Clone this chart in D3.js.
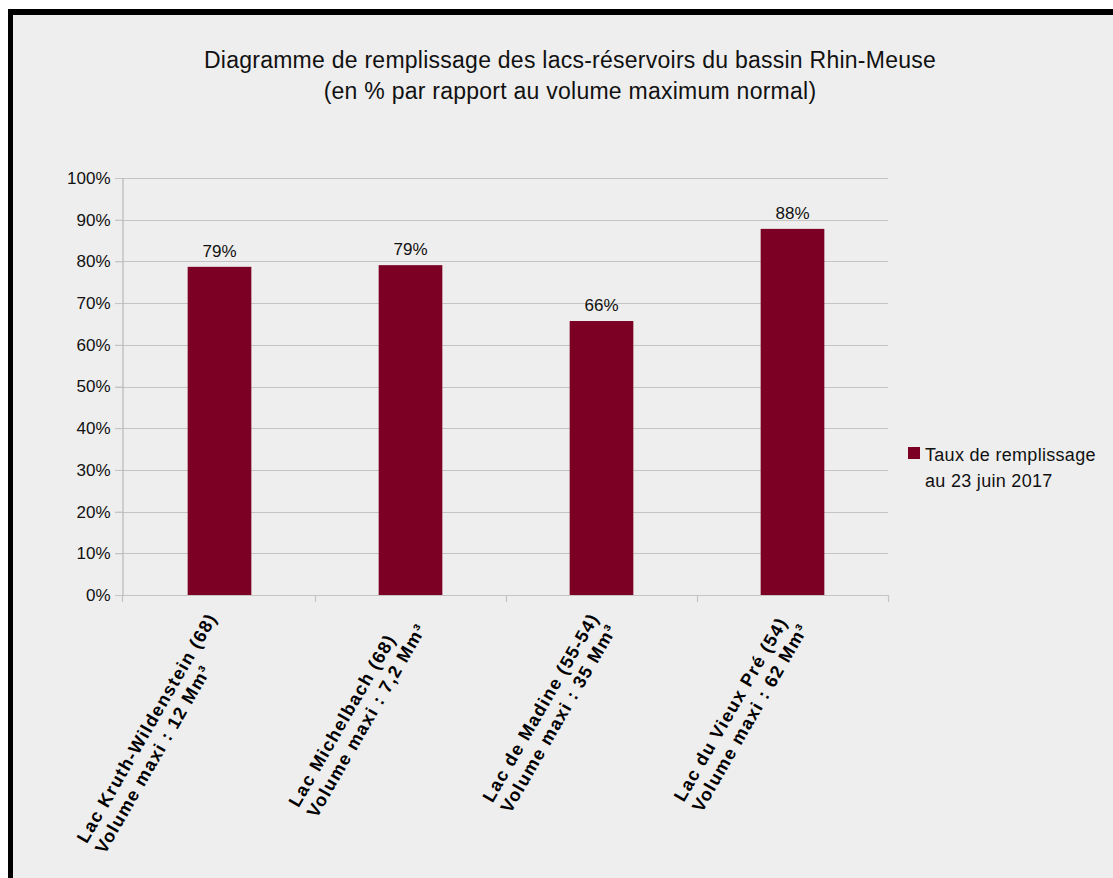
<!DOCTYPE html>
<html>
<head>
<meta charset="utf-8">
<script src="https://cdn.jsdelivr.net/npm/d3@7"></script>
<style>
  html, body { margin: 0; padding: 0; background: #ffffff; }
  svg { display: block; font-family: "Liberation Sans", Arial, sans-serif; }
</style>
</head>
<body>
<div id="chart"></div>
<script>
// data
const lakes = [
  "Lac Kruth-Wildenstein (68)",
  "Lac Michelbach (68)",
  "Lac de Madine (55-54)",
  "Lac du Vieux Pré (54)"
];
const volumes = [
  "Volume maxi : 12 Mm³",
  "Volume maxi : 7,2 Mm³",
  "Volume maxi : 35 Mm³",
  "Volume maxi : 62 Mm³"
];
const fillRates = [0.787, 0.791, 0.657, 0.878];
const rateLabels = ["79%", "79%", "66%", "88%"];
const yTicks = [0, 0.1, 0.2, 0.3, 0.4, 0.5, 0.6, 0.7, 0.8, 0.9, 1];
const titleLines = [
  "Diagramme de remplissage des lacs-réservoirs du bassin Rhin-Meuse",
  "(en % par rapport au volume maximum normal)"
];
const legendLines = ["Taux de remplissage", "au 23 juin 2017"];

const W = 1113, H = 878;
const barColor = "#7b0023";
const margin = { top: 178, left: 124, right: 225, bottom: 283 };

const svg = d3.select("#chart").append("svg")
  .attr("width", W).attr("height", H);

// frame
svg.append("rect").attr("x", 8).attr("y", 9).attr("width", W).attr("height", H)
  .attr("fill", "#000");
svg.append("rect").attr("x", 13).attr("y", 15).attr("width", W).attr("height", H)
  .attr("fill", "#eeeeee");

const x = d3.scaleBand()
  .domain(d3.range(lakes.length))
  .range([margin.left, W - margin.right])
  .paddingInner(0).paddingOuter(0);

const y = d3.scaleLinear()
  .domain([0, 1])
  .range([H - margin.bottom, margin.top]);

const axisX = 122;

// grid
svg.append("g")
  .selectAll("line")
  .data(yTicks)
  .join("line")
  .attr("x1", axisX - 7)
  .attr("x2", W - margin.right)
  .attr("y1", d => Math.round(y(d)) + 0.5)
  .attr("y2", d => Math.round(y(d)) + 0.5)
  .attr("stroke", "#c4c4c4")
  .attr("stroke-width", 1.2);

// y axis
const yAxis = svg.append("g")
  .attr("transform", `translate(${axisX + 0.5},0)`)
  .call(d3.axisLeft(y).tickValues(yTicks).tickFormat(d3.format(".0%")).tickSize(7).tickPadding(5));
yAxis.select(".domain").attr("stroke", "#b8b8b8").attr("stroke-width", 1.2);
yAxis.selectAll(".tick line").attr("stroke", "#c4c4c4");
yAxis.selectAll(".tick text")
  .attr("font-size", 17).attr("fill", "#111")
  .attr("font-family", "Liberation Sans, Arial, sans-serif");

// x axis ticks at category boundaries
const bounds = d3.range(lakes.length + 1).map(i => i < lakes.length ? x(i) : x(lakes.length - 1) + x.bandwidth());
bounds[0] = axisX;
svg.append("g")
  .selectAll("line")
  .data(bounds)
  .join("line")
  .attr("x1", d => Math.round(d) + 0.5)
  .attr("x2", d => Math.round(d) + 0.5)
  .attr("y1", y(0))
  .attr("y2", y(0) + 7)
  .attr("stroke", "#c4c4c4")
  .attr("stroke-width", 1.2);

// bars
const barW = x.bandwidth() / 3;
svg.append("g")
  .selectAll("rect")
  .data(fillRates)
  .join("rect")
  .attr("x", (d, i) => x(i) + x.bandwidth() / 2 - barW / 2)
  .attr("y", d => y(d))
  .attr("width", barW)
  .attr("height", d => y(0) - y(d))
  .attr("fill", barColor);

// value labels
svg.append("g")
  .selectAll("text")
  .data(fillRates)
  .join("text")
  .attr("x", (d, i) => x(i) + x.bandwidth() / 2)
  .attr("y", d => y(d) - 10)
  .attr("text-anchor", "middle")
  .attr("font-size", 17)
  .attr("fill", "#111")
  .text((d, i) => rateLabels[i]);

// category labels, rotated, left aligned lines, right edge on tick
const lh = 21;
lakes.forEach((name, i) => {
  const g = svg.append("g")
    .attr("transform", `translate(${x(i) + x.bandwidth() / 2 + 2},${y(0) + 25}) rotate(-60)`);
  const t = g.append("text")
    .attr("font-size", 18)
    .attr("font-weight", "bold")
    .attr("letter-spacing", 1.3)
    .attr("fill", "#000");
  const l1 = t.append("tspan").attr("y", -lh / 2 + 6).text(name);
  const l2 = t.append("tspan").attr("y", lh / 2 + 6).text(volumes[i]);
  const w = Math.max(l1.node().getComputedTextLength(), l2.node().getComputedTextLength());
  l1.attr("x", -w);
  l2.attr("x", -w);
});

// title
svg.append("g")
  .selectAll("text")
  .data(titleLines)
  .join("text")
  .attr("x", 570)
  .attr("y", (d, i) => 68 + i * 31)
  .attr("text-anchor", "middle")
  .attr("font-size", 23)
  .attr("letter-spacing", 0.25)
  .attr("fill", "#111")
  .text(d => d);

// legend
svg.append("rect")
  .attr("x", 908).attr("y", 447)
  .attr("width", 12).attr("height", 12)
  .attr("fill", barColor);
svg.append("g")
  .selectAll("text")
  .data(legendLines)
  .join("text")
  .attr("x", 925)
  .attr("y", (d, i) => 461 + i * 26)
  .attr("font-size", 18)
  .attr("letter-spacing", 0.3)
  .attr("fill", "#111")
  .text(d => d);
</script>
</body>
</html>
